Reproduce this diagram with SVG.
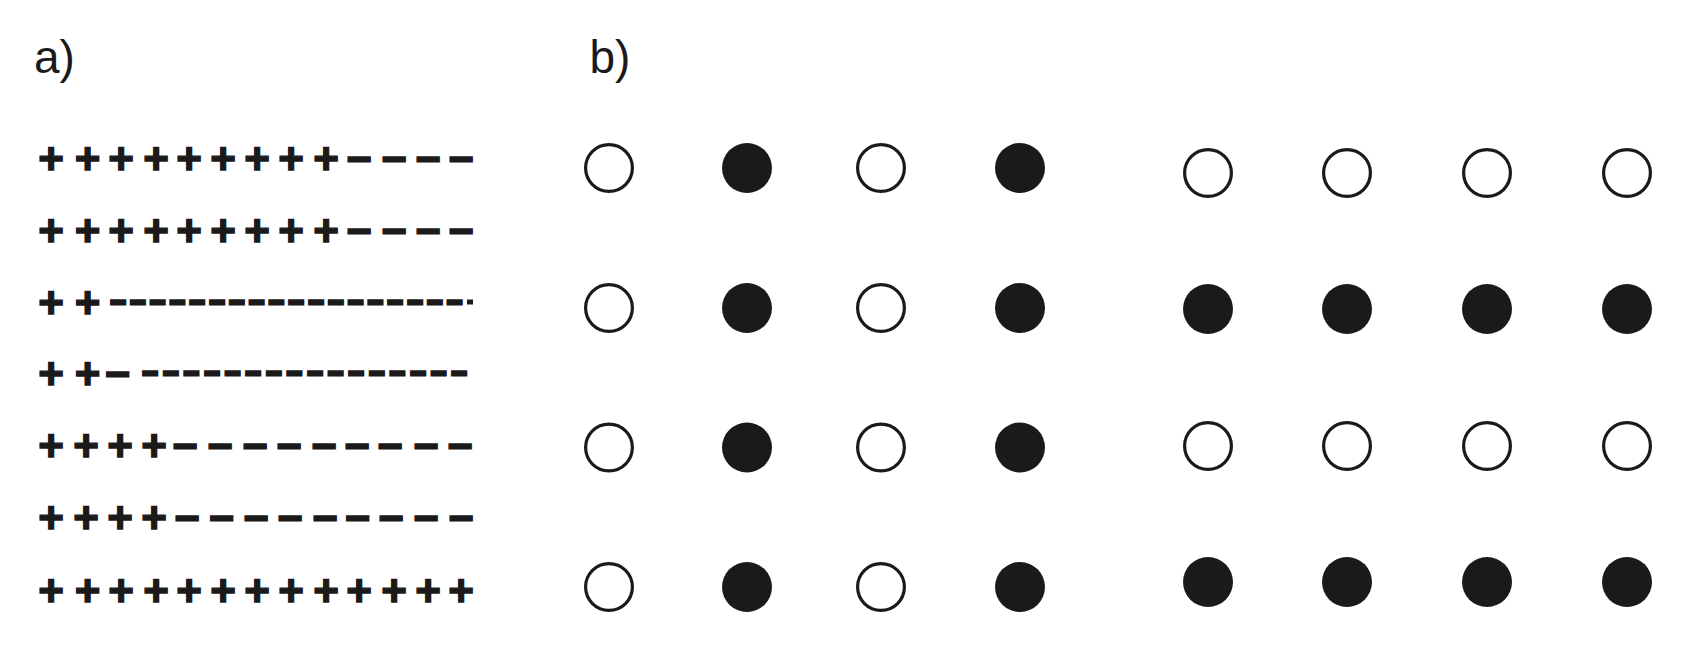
<svg xmlns="http://www.w3.org/2000/svg" width="1687" height="661" viewBox="0 0 1687 661">
<style>
.lbl{font-family:"Liberation Sans",Arial,sans-serif;font-size:46px;fill:#1a1a1a}
.sg{font-family:"Liberation Sans",Arial,sans-serif;font-weight:bold;font-size:44px;fill:#1a1a1a;stroke:#1a1a1a;stroke-width:1.4;stroke-linejoin:miter;text-anchor:middle}
.ds{font-family:"Liberation Sans",Arial,sans-serif;font-weight:bold;font-size:26px;fill:#1a1a1a;stroke:#1a1a1a;stroke-width:3.2;stroke-linejoin:miter;text-anchor:middle}
.op{fill:#fff;stroke:#1a1a1a;stroke-width:3.2}
.fl{fill:#1a1a1a}
</style>
<rect width="1687" height="661" fill="#fff"/>
<g id="label-a"><text class="lbl" x="34" y="73">a)</text></g>
<g id="label-b"><text class="lbl" x="589.5" y="73">b)</text></g>
<g id="panel-a">
<g id="row1"><text class="sg" x="51 87.5 121 156 189 223 257 291 326 359 394 428 461" y="173.6">+++++++++−−−−</text></g>
<g id="row2"><text class="sg" x="51 87.5 121 156 189 223 257 291 326 359 394 428 461" y="245.6">+++++++++−−−−</text></g>
<g id="row3"><text class="sg" x="51 87.5" y="317.6">++</text><text class="ds" x="118 137.8 157.6 177.4 197.2 217 236.8 256.6 276.4 296.2 316 335.8 355.6 375.4 395.2 415 434.8 454.6" y="311.3">−−−−−−−−−−−−−−−−−−</text><rect x="467" y="299.5" width="6" height="5" fill="#1a1a1a"/></g>
<g id="row4"><text class="sg" x="51 87.5 117.5" y="388.6">++−</text><text class="ds" x="150.2 170.8 191.4 212 232.6 253.2 273.8 294.4 315 335.6 356.2 376.8 397.4 418 438.6 459.2" y="382.3">−−−−−−−−−−−−−−−−</text></g>
<g id="row5"><text class="sg" x="51 86 120 154 185 220 255 289 324 357 390 426 460" y="460.6">++++−−−−−−−−−</text></g>
<g id="row6"><text class="sg" x="51 86 120 154 187 221.5 256 290 325 357.5 391 426 461" y="532.6">++++−−−−−−−−−</text></g>
<g id="row7"><text class="sg" x="51 87.5 121 156 189 223 257 291 326 359 394 428 461" y="605.6">+++++++++++++</text></g>
</g>
<g id="panel-b-left">
<g id="L11"><circle class="op" cx="609" cy="168" r="23.4"/></g>
<g id="L12"><circle class="fl" cx="747" cy="168" r="25"/></g>
<g id="L13"><circle class="op" cx="881" cy="168" r="23.4"/></g>
<g id="L14"><circle class="fl" cx="1020" cy="168" r="25"/></g>
<g id="L21"><circle class="op" cx="609" cy="308" r="23.4"/></g>
<g id="L22"><circle class="fl" cx="747" cy="308" r="25"/></g>
<g id="L23"><circle class="op" cx="881" cy="308" r="23.4"/></g>
<g id="L24"><circle class="fl" cx="1020" cy="308" r="25"/></g>
<g id="L31"><circle class="op" cx="609" cy="447.5" r="23.4"/></g>
<g id="L32"><circle class="fl" cx="747" cy="447.5" r="25"/></g>
<g id="L33"><circle class="op" cx="881" cy="447.5" r="23.4"/></g>
<g id="L34"><circle class="fl" cx="1020" cy="447.5" r="25"/></g>
<g id="L41"><circle class="op" cx="609" cy="587" r="23.4"/></g>
<g id="L42"><circle class="fl" cx="747" cy="587" r="25"/></g>
<g id="L43"><circle class="op" cx="881" cy="587" r="23.4"/></g>
<g id="L44"><circle class="fl" cx="1020" cy="587" r="25"/></g>
</g>
<g id="panel-b-right">
<g id="R11"><circle class="op" cx="1208" cy="173" r="23.4"/></g>
<g id="R12"><circle class="op" cx="1347" cy="173" r="23.4"/></g>
<g id="R13"><circle class="op" cx="1487" cy="173" r="23.4"/></g>
<g id="R14"><circle class="op" cx="1627" cy="173" r="23.4"/></g>
<g id="R21"><circle class="fl" cx="1208" cy="309" r="25"/></g>
<g id="R22"><circle class="fl" cx="1347" cy="309" r="25"/></g>
<g id="R23"><circle class="fl" cx="1487" cy="309" r="25"/></g>
<g id="R24"><circle class="fl" cx="1627" cy="309" r="25"/></g>
<g id="R31"><circle class="op" cx="1208" cy="446" r="23.4"/></g>
<g id="R32"><circle class="op" cx="1347" cy="446" r="23.4"/></g>
<g id="R33"><circle class="op" cx="1487" cy="446" r="23.4"/></g>
<g id="R34"><circle class="op" cx="1627" cy="446" r="23.4"/></g>
<g id="R41"><circle class="fl" cx="1208" cy="582" r="25"/></g>
<g id="R42"><circle class="fl" cx="1347" cy="582" r="25"/></g>
<g id="R43"><circle class="fl" cx="1487" cy="582" r="25"/></g>
<g id="R44"><circle class="fl" cx="1627" cy="582" r="25"/></g>
</g>
</svg>
